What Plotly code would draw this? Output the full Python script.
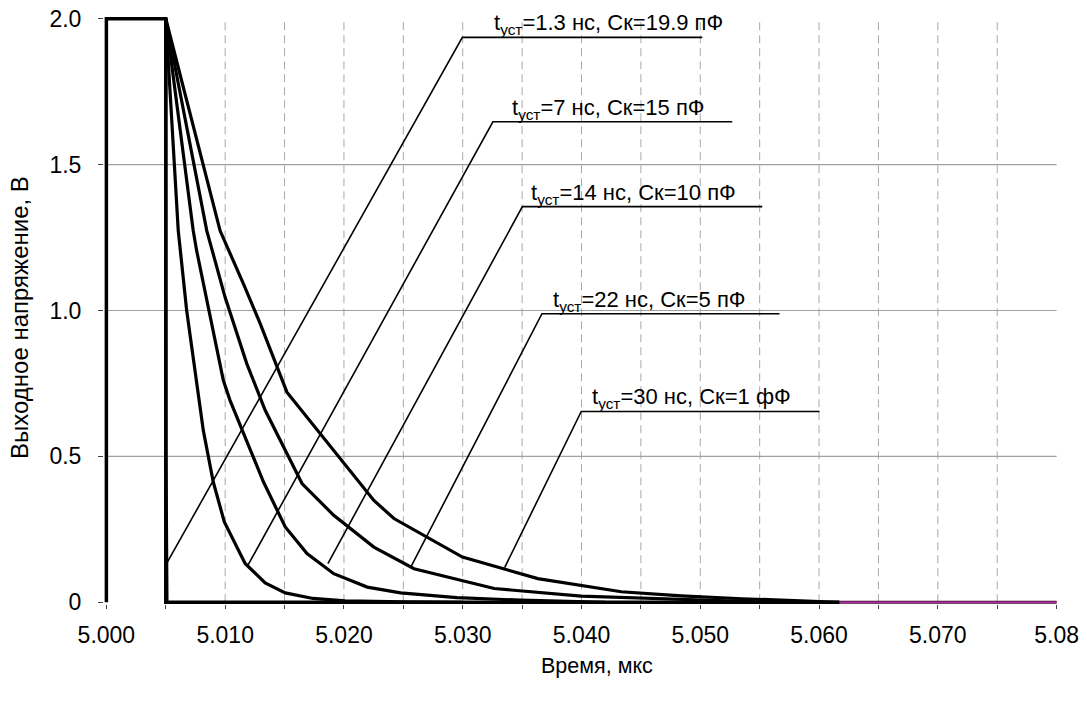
import plotly.graph_objects as go

# ---- data (time in µs, voltage in V) ----
pulse_x = [5.000, 5.000, 5.005, 5.005, 5.0617]
pulse_y = [0.0, 2.0, 2.0, 0.0, 0.0]

t13_x = [5.005, 5.00502, 5.0051]
t13_y = [2.0, 0.5, 0.0]

t7_x = [5.005, 5.00605, 5.00676, 5.00816, 5.0090, 5.00993, 5.01168,
        5.01337, 5.01506, 5.0174, 5.0201, 5.025, 5.030]
t7_y = [2.0, 1.274, 1.0, 0.589, 0.412, 0.275, 0.133,
        0.066, 0.032, 0.013, 0.005, 0.001, 0.0]

t14_x = [5.005, 5.00731, 5.0076, 5.00985, 5.01041, 5.01154, 5.01323, 5.01506, 5.01689,
         5.01914, 5.02196, 5.02477, 5.0295, 5.0349, 5.042]
t14_y = [2.0, 1.274, 1.205, 0.760, 0.692, 0.578, 0.412, 0.258, 0.167,
         0.098, 0.052, 0.032, 0.016, 0.007, 0.0]

t22_x = [5.005, 5.00845, 5.00999, 5.01182, 5.01337, 5.01506, 5.01647,
         5.01914, 5.02252, 5.0259, 5.03265, 5.03997, 5.04842, 5.056]
t22_y = [2.0, 1.274, 1.046, 0.818, 0.658, 0.521, 0.407,
         0.298, 0.189, 0.115, 0.047, 0.021, 0.009, 0.0]

t30_x = [5.005, 5.00957, 5.01154, 5.01295, 5.0152, 5.01802, 5.02027, 5.02252,
         5.02421, 5.02998, 5.03632, 5.04335, 5.0484, 5.0535, 5.0617]
t30_y = [2.0, 1.274, 1.091, 0.955, 0.720, 0.578, 0.463, 0.349,
         0.287, 0.155, 0.081, 0.036, 0.022, 0.012, 0.0]

tail_x = [5.0615, 5.080]
tail_y = [0.0, 0.0]

# ---- labels ----
label_texts = [
    "t<sub>уст</sub>=1.3 нс, Ск=19.9 пФ",
    "t<sub>уст</sub>=7 нс, Ск=15 пФ",
    "t<sub>уст</sub>=14 нс, Ск=10 пФ",
    "t<sub>уст</sub>=22 нс, Ск=5 пФ",
    "t<sub>уст</sub>=30 нс, Ск=1 фФ",
]
label_text_x = [5.03252, 5.03409, 5.03569, 5.03748, 5.04076]
label_y = [1.936, 1.647, 1.356, 0.989, 0.654]
underline_x0 = [5.02997, 5.03254, 5.03502, 5.03667, 5.03998]
underline_x1 = [5.05017, 5.05269, 5.05522, 5.05667, 5.06004]
leader_x = [5.00499, 5.01192, 5.01865, 5.02567, 5.03353]
leader_y = [0.127, 0.127, 0.1325, 0.124, 0.119]

x_tickvals = [5.000, 5.005, 5.010, 5.015, 5.020, 5.025, 5.030, 5.035, 5.040,
              5.045, 5.050, 5.055, 5.060, 5.065, 5.070, 5.075, 5.080]
x_ticktext = ["5.000", "", "5.010", "", "5.020", "", "5.030", "", "5.040",
              "", "5.050", "", "5.060", "", "5.070", "", "5.08"]
y_tickvals = [0, 0.5, 1.0, 1.5, 2.0]
y_ticktext = ["0", "0.5", "1.0", "1.5", "2.0"]
x_grid = [5.005, 5.010, 5.015, 5.020, 5.025, 5.030, 5.035, 5.040,
          5.045, 5.050, 5.055, 5.060, 5.065, 5.070, 5.075]
y_grid = [0.5, 1.0, 1.5]

FONT = "Liberation Sans, Arial, sans-serif"

fig = go.Figure()

# magenta tail at zero level
fig.add_trace(go.Scatter(x=tail_x, y=tail_y, mode="lines",
                         line=dict(color="#3a0a33", width=3), hoverinfo="skip"))
fig.add_trace(go.Scatter(x=tail_x, y=tail_y, mode="lines",
                         line=dict(color="#b0309f", width=1.4), hoverinfo="skip"))

fig.add_trace(go.Scatter(x=pulse_x, y=pulse_y, mode="lines",
                         line=dict(color="black", width=3.5)))
for xs, ys in [(t13_x, t13_y), (t7_x, t7_y), (t14_x, t14_y), (t22_x, t22_y), (t30_x, t30_y)]:
    fig.add_trace(go.Scatter(x=xs, y=ys, mode="lines",
                             line=dict(color="black", width=3.2)))

# leader lines
lx, ly = [], []
for i in range(len(label_texts)):
    lx += [leader_x[i], underline_x0[i], underline_x1[i], None]
    ly += [leader_y[i], label_y[i], label_y[i], None]
fig.add_trace(go.Scatter(x=lx, y=ly, mode="lines",
                         line=dict(color="black", width=1.6)))

shapes = []
for gx in x_grid:
    shapes.append(dict(type="line", xref="x", yref="y", x0=gx, x1=gx, y0=0, y1=2.0,
                       line=dict(color="#a8a8a8", width=1, dash="8px,5px"), layer="below"))
for gy in y_grid:
    shapes.append(dict(type="line", xref="x", yref="y", x0=5.000, x1=5.080, y0=gy, y1=gy,
                       line=dict(color="#a0a0a0", width=1.2), layer="below"))

annotations = []
for i, t in enumerate(label_texts):
    annotations.append(dict(x=label_text_x[i], y=label_y[i], xref="x", yref="y",
                            text=t, showarrow=False, xanchor="left", yanchor="bottom",
                            font=dict(family=FONT, size=22, color="black"),
                            borderpad=0, yshift=-2))
annotations.append(dict(x=0.516, y=-0.106, xref="paper", yref="paper",
                        text="Время, мкс", showarrow=False, xanchor="center", yanchor="middle",
                        font=dict(family=FONT, size=21.5, color="black")))
annotations.append(dict(x=-0.0885, y=0.488, xref="paper", yref="paper",
                        text="Выходное напряжение, В", showarrow=False, textangle=-90,
                        xanchor="center", yanchor="middle",
                        font=dict(family=FONT, size=24, color="black")))

fig.update_layout(
    template="none",
    width=1087, height=703,
    margin=dict(l=104.3, r=27.5, t=16.95, b=99.25, pad=0, autoexpand=False),
    paper_bgcolor="white", plot_bgcolor="white",
    showlegend=False,
    shapes=shapes, annotations=annotations,
    xaxis=dict(range=[4.9998, 5.0802], tickmode="array", tickvals=x_tickvals, ticktext=x_ticktext,
               showgrid=False, zeroline=False, showline=False, automargin=False,
               ticks="outside", ticklen=4, tickwidth=1, tickcolor="#404040",
               tickfont=dict(family=FONT, size=23, color="black"), ticklabelstandoff=6),
    yaxis=dict(range=[-0.006, 2.006], tickmode="array", tickvals=y_tickvals, ticktext=y_ticktext,
               showgrid=False, zeroline=False, showline=False, automargin=False,
               ticks="outside", ticklen=5, tickwidth=1, tickcolor="#404040",
               tickfont=dict(family=FONT, size=23, color="black"), ticklabelstandoff=12),
)

fig.write_html("out.html", config={"displayModeBar": False},
               post_script="document.body.style.margin='0';document.body.style.padding='0';")
